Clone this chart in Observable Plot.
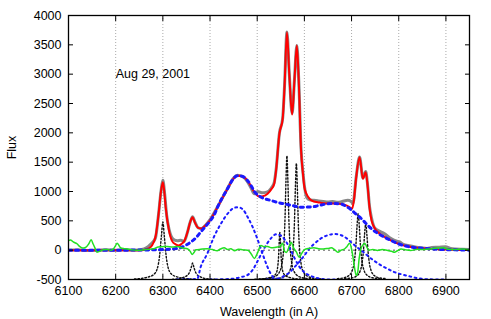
<!DOCTYPE html>
<html><head><meta charset="utf-8">
<script src="https://cdn.jsdelivr.net/npm/d3@7"></script>
<script src="https://cdn.jsdelivr.net/npm/@observablehq/plot@0.6"></script>
<style>
body{margin:0;background:#fff;}
#chart svg{display:block;}
</style>
</head><body><div id="chart"></div>
<script>
const xTicks = [6100,6200,6300,6400,6500,6600,6700,6800,6900];
const yTicks = [-500,0,500,1000,1500,2000,2500,3000,3500,4000];
const annotations = [{x: 6200, y: 3000, text: "Aug 29, 2001"}];

// observed spectrum (gray)
const observed = [[6100,0],[6120,5],[6140,-5],[6160,0],[6180,5],[6200,0],[6220,5],[6240,0],[6255,10],[6265,40],[6274,100],[6284,200],[6291,620],[6296,1000],[6300,1190],[6304,950],[6308,600],[6313,360],[6318,230],[6325,170],[6331,160],[6338,170],[6345,150],[6352,300],[6358,480],[6363,570],[6368,480],[6375,380],[6382,370],[6390,420],[6400,520],[6416,740],[6437,1050],[6450,1230],[6458,1275],[6470,1250],[6480,1160],[6487,1060],[6494,960],[6501,1000],[6510,980],[6520,990],[6530,1060],[6536,1150],[6540,1370],[6547,1990],[6554,2250],[6558,2810],[6563,3720],[6568,3010],[6574,2330],[6579,2910],[6584,3490],[6588,2910],[6593,1720],[6597,1320],[6600,1100],[6605,900],[6611,860],[6620,850],[6630,840],[6640,830],[6650,820],[6660,830],[6671,815],[6680,830],[6692,850],[6699,830],[6703,800],[6710,1260],[6717,1590],[6724,1230],[6730,1340],[6734,1110],[6738,750],[6742,560],[6749,380],[6760,320],[6770,280],[6780,215],[6791,165],[6802,140],[6810,100],[6820,80],[6835,55],[6848,40],[6860,30],[6870,45],[6884,50],[6899,60],[6910,30],[6920,20],[6935,15],[6950,10]];

// total fit (red)
const fit = [[6100,0],[6200,0],[6255,0],[6264,10],[6270,30],[6277,80],[6285,250],[6291,620],[6296,1000],[6300,1158],[6303,1000],[6306,733],[6313,335],[6320,150],[6327,100],[6334,80],[6340,110],[6345,150],[6352,300],[6358,480],[6363,560],[6368,470],[6375,380],[6382,370],[6390,420],[6400,510],[6416,735],[6437,1045],[6447,1190],[6458,1268],[6466,1265],[6475,1225],[6481,1170],[6494,990],[6504,915],[6512,920],[6522,960],[6530,1040],[6536,1130],[6540,1358],[6547,1983],[6554,2238],[6558,2800],[6563,3714],[6568,3000],[6574,2312],[6579,2900],[6584,3487],[6588,2900],[6593,1698],[6597,1300],[6600,1073],[6605,950],[6611,876],[6620,830],[6628,818],[6640,800],[6657,795],[6670,792],[6680,785],[6690,760],[6695,740],[6701,705],[6705,850],[6710,1250],[6717,1585],[6724,1216],[6730,1330],[6734,1100],[6738,733],[6742,520],[6746,421],[6752,340],[6760,280],[6770,225],[6785,160],[6800,108],[6815,70],[6830,48],[6850,32],[6870,22],[6900,10],[6950,2]];

// sum of broad components (thick blue dotted)
const broadSum = [[6100,0],[6200,0],[6260,3],[6280,6],[6300,10],[6320,20],[6337,40],[6350,90],[6359,136],[6370,210],[6380,307],[6390,400],[6401,506],[6410,620],[6416,733],[6425,880],[6437,1045],[6447,1190],[6458,1268],[6468,1260],[6478,1200],[6487,1100],[6495,990],[6505,920],[6515,880],[6529,847],[6545,810],[6557,790],[6575,760],[6593,733],[6614,735],[6630,760],[6650,790],[6665,795],[6678,785],[6690,740],[6699,690],[6710,610],[6721,535],[6730,460],[6742,365],[6755,290],[6770,221],[6785,160],[6799,109],[6815,70],[6827,51],[6845,35],[6863,24],[6890,12],[6920,5],[6950,0]];

// residual (green)
const residual = [[6100,165],[6104,175],[6110,140],[6118,109],[6124,60],[6130,35],[6136,45],[6143,109],[6148,177],[6152,110],[6156,40],[6160,-34],[6166,-20],[6174,7],[6182,10],[6190,0],[6196,30],[6200,80],[6203,119],[6207,80],[6210,41],[6218,25],[6225,20],[6235,5],[6245,0],[6253,0],[6265,10],[6281,24],[6290,55],[6300,60],[6309,63],[6320,55],[6331,63],[6340,40],[6352,24],[6358,-20],[6362,-73],[6366,-40],[6370,7],[6380,15],[6394,24],[6405,10],[6415,-10],[6422,20],[6430,41],[6437,10],[6444,25],[6452,-10],[6460,15],[6470,5],[6480,0],[6487,-60],[6494,-140],[6500,-60],[6508,80],[6515,60],[6522,63],[6530,40],[6540,50],[6548,60],[6554,119],[6558,-20],[6562,-40],[6567,50],[6572,136],[6577,40],[6583,-30],[6589,-120],[6594,-60],[6600,10],[6610,30],[6620,40],[6630,25],[6640,20],[6650,30],[6657,40],[6664,10],[6671,-34],[6678,0],[6685,20],[6690,60],[6696,119],[6700,20],[6703,-119],[6707,-330],[6710,-431],[6713,-380],[6716,-150],[6720,30],[6724,90],[6728,119],[6732,60],[6736,0],[6745,10],[6755,-5],[6765,10],[6775,0],[6785,-20],[6791,-34],[6797,-10],[6805,20],[6815,5],[6825,-5],[6840,15],[6855,10],[6870,25],[6885,35],[6895,40],[6905,15],[6920,10],[6935,20],[6950,5]];

// broad gaussian components (thin blue dotted), baseline -500
const broad6450 = [[6330,-500],[6360,-497],[6373,-488],[6380,-290],[6394,-62],[6408,221],[6423,450],[6440,647],[6452,725],[6460,730],[6470,690],[6480,560],[6490,400],[6500,200],[6510,-30],[6520,-250],[6530,-420],[6540,-490],[6555,-500]];
const broad6545 = [[6400,-500],[6430,-496],[6450,-485],[6465,-460],[6480,-420],[6490,-340],[6500,-200],[6510,-40],[6520,100],[6530,210],[6540,270],[6550,250],[6560,160],[6570,20],[6580,-150],[6590,-290],[6600,-380],[6614,-440],[6630,-480],[6645,-497],[6670,-500]];
const broad6665 = [[6520,-500],[6540,-490],[6557,-440],[6570,-370],[6579,-290],[6590,-190],[6600,-90],[6610,20],[6621,109],[6635,200],[6650,255],[6665,275],[6678,255],[6690,200],[6700,130],[6710,60],[6721,-5],[6732,-80],[6742,-147],[6752,-205],[6763,-261],[6777,-320],[6791,-375],[6805,-410],[6820,-440],[6835,-470],[6848,-488],[6870,-498],[6900,-500]];

// narrow line components (black dotted), baseline -500
const narrow6300 = [[6240,-492],[6255,-480],[6270,-455],[6280,-420],[6288,-320],[6293,-100],[6297,250],[6300,480],[6303,250],[6307,-100],[6312,-320],[6320,-420],[6330,-455],[6345,-480],[6360,-492]];
const narrow6363 = [[6320,-497],[6330,-490],[6345,-460],[6355,-400],[6360,-300],[6363,-220],[6366,-300],[6371,-400],[6381,-460],[6396,-490],[6410,-497]];
const narrow6548 = [[6495,-495],[6510,-490],[6525,-470],[6535,-440],[6541,-380],[6545,-150],[6548,300],[6551,-150],[6555,-380],[6561,-440],[6571,-470],[6586,-490],[6600,-495]];
const narrow6563 = [[6505,-490],[6523,-480],[6538,-448],[6548,-360],[6553,-209],[6556,19],[6559,555],[6561,1190],[6563,1610],[6565,1190],[6567,555],[6570,19],[6573,-209],[6578,-360],[6588,-448],[6603,-480],[6620,-490]];
const narrow6583 = [[6525,-490],[6543,-481],[6558,-450],[6568,-370],[6573,-227],[6576,-13],[6579,490],[6581,1084],[6583,1480],[6585,1084],[6587,490],[6590,-13],[6593,-227],[6598,-370],[6608,-450],[6623,-481],[6640,-490]];
const narrow6716 = [[6670,-485],[6684,-470],[6696,-420],[6702,-334],[6706,-186],[6709,60],[6711.5,396],[6714,620],[6716.5,396],[6719,60],[6722,-186],[6726,-334],[6732,-420],[6744,-470],[6760,-485]];
const narrow6731 = [[6685,-485],[6700,-474],[6712,-432],[6718,-359],[6722,-234],[6725,-25],[6727.5,260],[6730,450],[6732.5,260],[6735,-25],[6738,-234],[6742,-359],[6748,-432],[6760,-474],[6775,-485]];

const rows = (arr, name) => arr.map(([x, y]) => ({x, y, name}));
const broadComps = [...rows(broad6450,"a"), ...rows(broad6545,"b"), ...rows(broad6665,"c")];
const narrowComps = [...rows(narrow6300,"a"), ...rows(narrow6363,"b"), ...rows(narrow6548,"c"), ...rows(narrow6563,"d"), ...rows(narrow6583,"e"), ...rows(narrow6716,"f"), ...rows(narrow6731,"g")];

const fmt = d => String(d);
const chart = Plot.plot({
  width: 491, height: 319,
  marginLeft: 68, marginRight: 22, marginTop: 15, marginBottom: 40,
  style: {fontFamily: "'Liberation Sans', Arial, Helvetica, sans-serif", fontSize: "12.5px", background: "#fff", color: "#000"},
  x: {domain: [6100, 6950]},
  y: {domain: [-500, 4000]},
  marks: [
    Plot.ruleX(xTicks.slice(1), {stroke: "#aaa", strokeDasharray: "1,2", strokeWidth: 1}),
    Plot.ruleY([0], {stroke: "#555", strokeDasharray: "2,3", strokeWidth: 1}),
    Plot.line(narrowComps, {x: "x", y: "y", z: "name", stroke: "#111", strokeWidth: 1.4, strokeDasharray: "1.5,2", curve: "monotone-x", clip: true}),
    Plot.line(broadComps, {x: "x", y: "y", z: "name", stroke: "#1a1aff", strokeWidth: 2, strokeDasharray: "1.8,3.6", curve: "monotone-x", clip: true}),
    Plot.line(rows(observed, "obs"), {x: "x", y: "y", stroke: "#888", strokeWidth: 3, curve: "monotone-x", clip: true}),
    Plot.line(rows(fit, "fit"), {x: "x", y: "y", stroke: "#ff0000", strokeWidth: 2, curve: "monotone-x", clip: true}),
    Plot.line(rows(broadSum, "sum"), {x: "x", y: "y", stroke: "#1a1aff", strokeWidth: 3, strokeDasharray: "3,4", curve: "monotone-x", clip: true}),
    Plot.line(rows(residual, "res"), {x: "x", y: "y", stroke: "#22e022", strokeWidth: 1.5, curve: "monotone-x", clip: true}),
    Plot.frame({stroke: "#000", strokeWidth: 1.3}),
    Plot.axisX({ticks: xTicks, tickSize: -5, tickPadding: 12, tickFormat: fmt, label: "Wavelength (in A)", labelAnchor: "center", labelOffset: 36, labelArrow: "none"}),
    Plot.axisX({anchor: "top", ticks: xTicks, tickSize: -5, tickFormat: () => "", label: null}),
    Plot.axisY({ticks: yTicks, tickSize: -5, tickPadding: 12, tickFormat: fmt, label: "Flux", labelAnchor: "center", labelOffset: 61, labelArrow: "none"}),
    Plot.axisY({anchor: "right", ticks: yTicks, tickSize: -5, tickFormat: () => "", label: null}),
    Plot.text(annotations, {x: "x", y: "y", text: "text", textAnchor: "start", fontSize: 12.5})
  ]
});
document.getElementById("chart").appendChild(chart);
</script>
</body></html>
